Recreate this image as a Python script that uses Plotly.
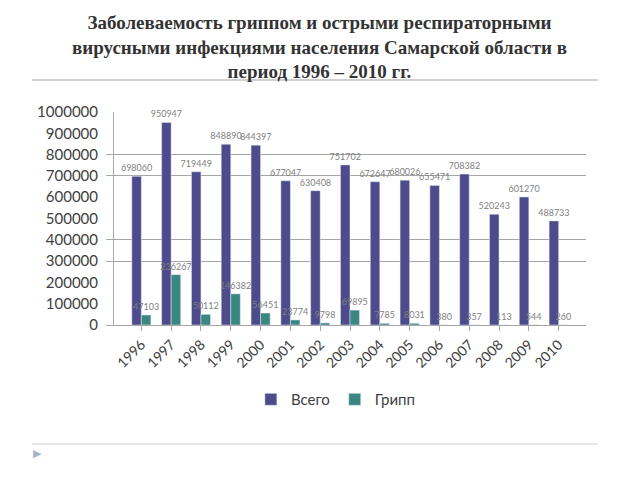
import plotly.graph_objects as go

years = [str(y) for y in range(1996, 2011)]
vsego = [698060, 950947, 719449, 848890, 844397, 677047, 630408, 751702,
         672647, 680026, 655471, 708382, 520243, 601270, 488733]
gripp = [47103, 236267, 50112, 146382, 56451, 23774, 9798, 69895,
         7785, 8031, 380, 357, 113, 544, 260]
grid_vals = [0, 300000, 400000, 700000, 800000]

colors = dict(vsego="#4E4B8C", gripp="#3A8782", grid="#A6A6A6", text="#404040")

fig = go.Figure()
fig.add_trace(go.Bar(x=years, y=vsego, name="Всего", marker_color=colors["vsego"],
                     text=[str(v) for v in vsego], textposition="outside",
                     constraintext="none",
                     textfont=dict(size=9, color="#7F7F7F"), cliponaxis=False))
fig.add_trace(go.Bar(x=years, y=gripp, name="Грипп", marker_color=colors["gripp"],
                     text=[str(v) for v in gripp], textposition="outside",
                     constraintext="none",
                     textfont=dict(size=9, color="#7F7F7F"), cliponaxis=False))
# invisible trace to carry the sparse gridlines on a second axis
fig.add_trace(go.Scatter(x=years, y=[None] * len(years), yaxis="y2",
                         showlegend=False, hoverinfo="skip"))

# page has an 8px body margin, so the margins are shifted by 8
fig.update_layout(
    width=640, height=480,
    margin=dict(l=106, r=62, t=104, b=163, autoexpand=False),
    plot_bgcolor="white", paper_bgcolor="white",
    barmode="group", bargap=0.36, bargroupgap=0,
    font=dict(family="Lato, Open Sans, sans-serif", color=colors["text"]),
    legend=dict(orientation="h", x=0.29, xanchor="left", y=-0.35, yanchor="middle",
                font=dict(size=15), itemwidth=30, traceorder="normal"),
    xaxis=dict(tickangle=-45, tickfont=dict(size=14), showline=True,
               linecolor=colors["grid"], ticks="outside", ticklen=5,
               tickcolor=colors["grid"], automargin=False),
    yaxis=dict(range=[0, 1000000], dtick=100000, tickformat="d",
               tickfont=dict(size=15), showgrid=False, showline=True,
               linecolor=colors["grid"], zeroline=False, automargin=False,
               ticks="outside", ticklen=12, tickcolor="rgba(0,0,0,0)"),
    yaxis2=dict(overlaying="y", range=[0, 1000000], tickvals=grid_vals,
                showticklabels=False, showgrid=True, gridcolor=colors["grid"],
                gridwidth=1, zeroline=False, side="left", automargin=False,
                ticks="outside", ticklen=7, tickcolor=colors["grid"]),
    shapes=[
        dict(type="line", xref="paper", yref="paper", x0=-0.174, x1=1.025,
             y0=1.15, y1=1.15, line=dict(color="#D0D0D0", width=2)),
        dict(type="line", xref="paper", yref="paper", x0=-0.174, x1=1.025,
             y0=-0.559, y1=-0.559, line=dict(color="#E0E0E0", width=1.5)),
    ],
    annotations=[
        dict(text="<b>Заболеваемость гриппом и острыми респираторными<br>"
                  "вирусными инфекциями населения Самарской области в<br>"
                  "период 1996 – 2010 гг.</b>",
             xref="paper", yref="paper", x=0.435, y=1.478, xanchor="center",
             yanchor="top", showarrow=False,
             font=dict(family="Liberation Serif", size=19, color="#333333")),
        dict(text="▶", xref="paper", yref="paper", x=-0.175, y=-0.64,
             showarrow=False, font=dict(size=11, color="#A3B6CC")),
    ],
)

fig.write_html("out.html")
